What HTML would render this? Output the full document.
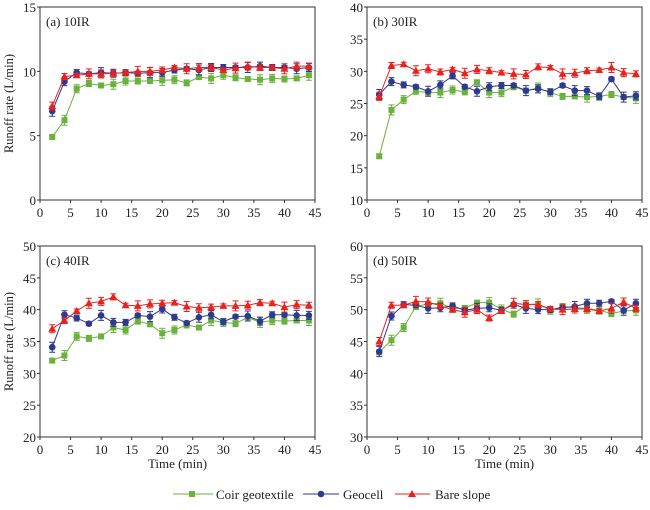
<!DOCTYPE html>
<html><head><meta charset="utf-8"><style>
html,body{margin:0;padding:0;background:#fff;}
svg text{font-family:"Liberation Serif",serif;fill:#222;}
</style></head><body>
<svg id="s" width="650" height="505" viewBox="0 0 650 505" xmlns="http://www.w3.org/2000/svg"></svg>
<script>
const S=document.getElementById('s');let h='';
const G='#6ab13d',B='#2e3a8c',R='#e8231f';
const panels=[
{x0:40,x1:315,y0:7,y1:200,ymin:0,ymax:15,step:5,lab:'(a) 10IR',yl:true,xl:false,
c:[4.9,6.2,8.65,9.05,8.9,9.0,9.25,9.25,9.25,9.3,9.35,9.1,9.55,9.45,9.7,9.5,9.4,9.35,9.45,9.4,9.45,9.7],
g:[6.9,9.2,9.9,9.8,9.9,9.85,9.9,9.85,9.9,9.9,10.1,10.2,10.1,10.3,10.3,10.3,10.3,10.4,10.3,10.3,10.2,10.3],
b:[7.3,9.6,9.7,9.8,9.8,9.85,9.9,10.0,10.0,10.1,10.3,10.2,10.3,10.3,10.1,10.25,10.4,10.3,10.3,10.2,10.4,10.4]},
{x0:367,x1:642,y0:7,y1:200,ymin:10,ymax:40,step:5,lab:'(b) 30IR',yl:false,xl:false,
c:[16.8,24,25.6,26.9,26.7,26.7,27.1,26.8,28.3,26.7,26.7,27.6,27.0,27.4,26.7,26.1,26.1,26.0,26.1,26.4,26.0,25.8],
g:[26.4,28.4,27.9,27.6,26.9,27.9,29.3,27.6,26.9,27.6,27.8,27.8,27.0,27.3,26.8,27.8,27.0,27.0,26.1,28.8,26.0,26.2],
b:[26.1,30.9,31.1,30.1,30.4,29.9,30.3,29.7,30.3,30.1,29.8,29.6,29.5,30.7,30.6,29.6,29.7,30.1,30.2,30.6,29.8,29.6]},
{x0:40,x1:315,y0:246,y1:437,ymin:20,ymax:50,step:5,lab:'(c) 40IR',yl:true,xl:true,
c:[32,32.8,35.8,35.5,35.8,37.2,36.8,38.2,37.7,36.3,36.8,37.6,37.2,38.3,38,37.8,38.8,38,38.3,38.2,38.3,38.3],
g:[34.1,39.2,38.7,37.8,39.1,38,38,39.1,38.9,40.1,38.8,37.9,38.8,39.2,38.1,38.9,39,38.2,39.2,39.2,39.1,39.1],
b:[37,38.3,39.8,41,41.3,42,40.7,40.6,40.9,41,41.1,40.5,40.3,40.4,40.6,40.6,40.7,41.1,41,40.4,40.8,40.7]},
{x0:367,x1:642,y0:246,y1:437,ymin:30,ymax:60,step:5,lab:'(d) 50IR',yl:false,xl:true,
c:[43.3,45.2,47.2,50.5,50.9,51,50.2,50.2,51.1,51.1,50.1,49.3,50.8,50.9,49.9,50.5,50.3,50.2,49.9,49.4,49.8,49.9],
g:[43.4,49,50.8,50.7,50.2,50.3,50.6,49.9,50.2,50.3,49.9,50.8,50.2,50,50,50.3,50.5,51,51,51.3,49.9,51],
b:[45,50.7,50.7,51.3,51.2,50.6,50,49.6,50,48.7,49.8,51,50.8,50.8,50.1,50,50.1,50.1,49.8,50.2,51.2,50.2]}];
function mk(t,x,y,c){
 if(t=='s')return `<rect x="${x-3}" y="${y-3}" width="6" height="6" fill="${c}"/>`;
 if(t=='c')return `<circle cx="${x}" cy="${y}" r="3.3" fill="${c}"/>`;
 return `<polygon points="${x},${y-4} ${x-4},${y+3} ${x+4},${y+3}" fill="${c}"/>`;
}
panels.forEach(p=>{
 const X=t=>p.x0+(p.x1-p.x0)*t/45, Y=v=>p.y1-(p.y1-p.y0)*(v-p.ymin)/(p.ymax-p.ymin);
 h+=`<rect x="${p.x0}" y="${p.y0}" width="${p.x1-p.x0}" height="${p.y1-p.y0}" fill="none" stroke="#333" stroke-width="1"/>`;
 for(let t=0;t<=45;t+=5){h+=`<line x1="${X(t)}" x2="${X(t)}" y1="${p.y1}" y2="${p.y1+3}" stroke="#333"/><text x="${X(t)}" y="${p.y1+17}" font-size="13" text-anchor="middle">${t}</text>`;}
 for(let v=p.ymin;v<=p.ymax;v+=p.step){h+=`<line x1="${p.x0-3}" x2="${p.x0}" y1="${Y(v)}" y2="${Y(v)}" stroke="#333"/><text x="${p.x0-4}" y="${Y(v)+5}" font-size="13" text-anchor="end">${v}</text>`;}
 h+=`<text x="${p.x0+6}" y="${p.y0+19}" font-size="13">${p.lab}</text>`;
 if(p.yl)h+=`<text transform="translate(13,${(p.y0+p.y1)/2}) rotate(-90)" font-size="12.5" text-anchor="middle">Runoff rate (L/min)</text>`;
 if(p.xl)h+=`<text x="${(p.x0+p.x1)/2}" y="${p.y1+31}" font-size="13" text-anchor="middle">Time (min)</text>`;
 [[p.c,G,'s'],[p.g,B,'c'],[p.b,R,'t']].forEach(([d,c,t],k)=>{
  const pts=d.map((v,i)=>[X(2+2*i),Y(v)]);
  h+=`<polyline points="${pts.map(q=>q.join(',')).join(' ')}" fill="none" stroke="${c}" stroke-width="1"/>`;
  pts.forEach(([x,y],i)=>{const e=2+((i*7+k*3)%4);h+=`<path d="M${x},${y-e}V${y+e}M${x-3},${y-e}h6M${x-3},${y+e}h6" stroke="${c}" stroke-width="1"/>`;h+=mk(t,x,y,c);});
 });
});
h+=`<line x1="173" x2="213" y1="494" y2="494" stroke="${G}"/>`+mk('s',192,494,G)+`<text x="216" y="499" font-size="13">Coir geotextile</text>`;
h+=`<line x1="303" x2="339" y1="494" y2="494" stroke="${B}"/>`+mk('c',321,494,B)+`<text x="343" y="499" font-size="13">Geocell</text>`;
h+=`<line x1="395" x2="430" y1="494" y2="494" stroke="${R}"/>`+mk('t',412,494,R)+`<text x="435" y="499" font-size="13">Bare slope</text>`;
S.innerHTML=h;
</script>
</body></html>
